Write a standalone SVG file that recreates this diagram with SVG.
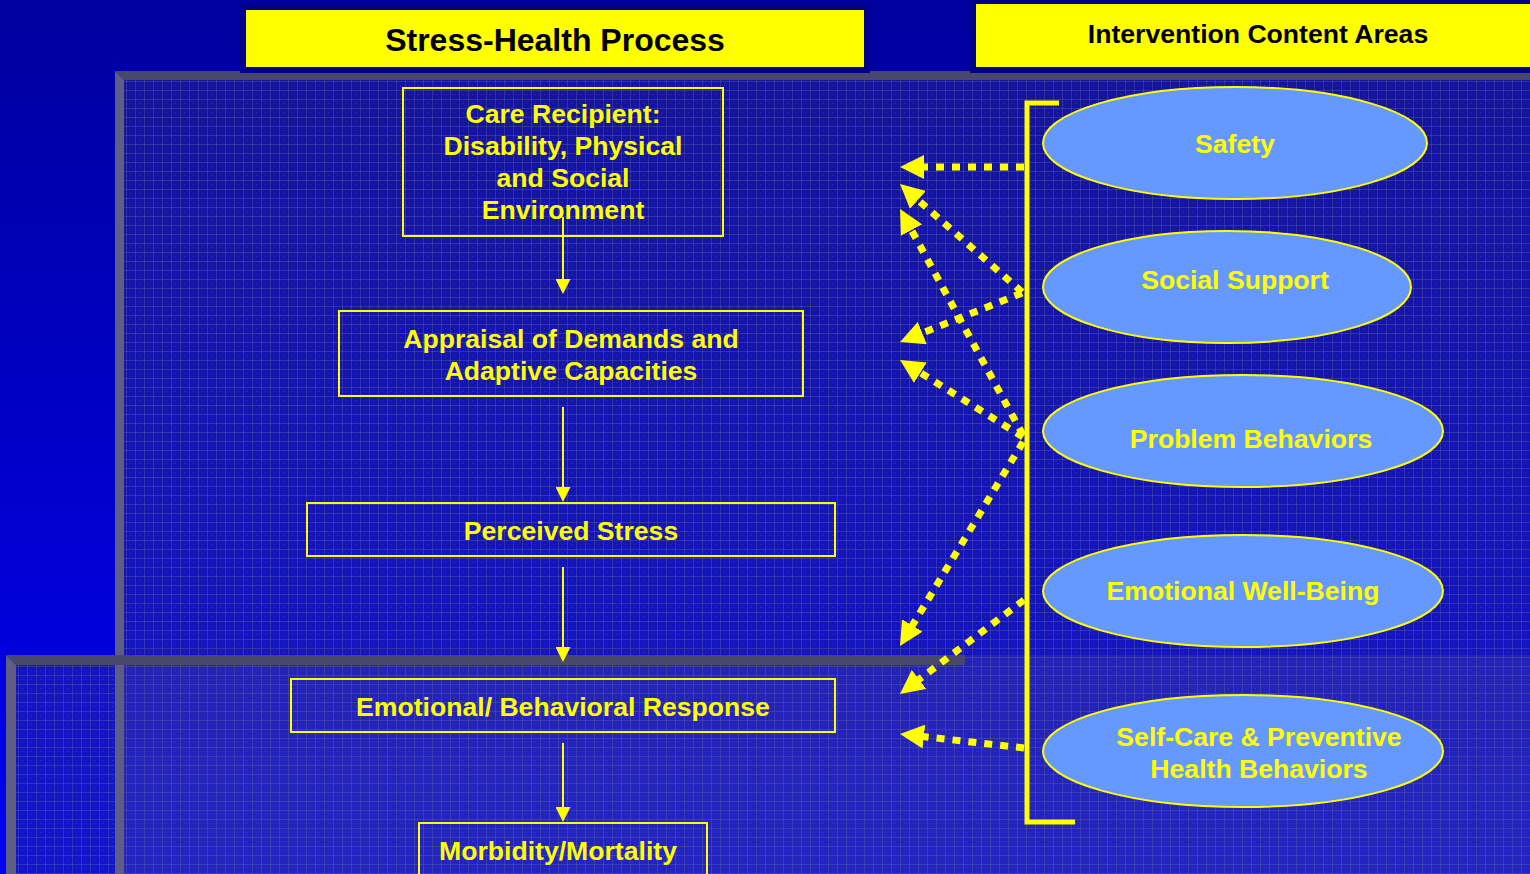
<svg xmlns="http://www.w3.org/2000/svg" width="1530" height="874" viewBox="0 0 1530 874">
<defs>
<linearGradient id="bg" x1="0" y1="0" x2="0" y2="1">
<stop offset="0" stop-color="#00009E"/>
<stop offset="1" stop-color="#0000F2"/>
</linearGradient>
<pattern id="tex" width="9" height="9" patternUnits="userSpaceOnUse">
<rect width="9" height="9" fill="#3a3a8c" fill-opacity="0.35"/>
<rect width="9" height="1" fill="#6a6a9a" fill-opacity="0.35"/>
<rect width="1" height="9" fill="#6a6a9a" fill-opacity="0.35"/>
<rect x="4" y="4" width="1" height="1" fill="#8080b0" fill-opacity="0.3"/>
</pattern>
<marker id="dhead" viewBox="0 0 24 24" refX="4" refY="12" markerWidth="24" markerHeight="24" markerUnits="userSpaceOnUse" orient="auto">
<path d="M0,0 L24,12 L0,24 Z" fill="#FFFF00"/>
</marker>
<marker id="shead" viewBox="0 0 15 15" refX="1" refY="7.5" markerWidth="15" markerHeight="15" markerUnits="userSpaceOnUse" orient="auto">
<path d="M0,0 L15,7.5 L0,15 Z" fill="#FFFF00"/>
</marker>
<style>
.box{fill:none;stroke:#FFFF00;stroke-width:2}
.t{font-family:"Liberation Sans",Arial,sans-serif;font-weight:bold;font-size:26.6px;fill:#FFFF00;text-anchor:middle}
.h{font-family:"Liberation Sans",Arial,sans-serif;font-weight:bold;fill:#000000;text-anchor:middle}
.ell{fill:#6699FF;stroke:#FFFF00;stroke-width:2}
.dot{fill:none;stroke:#FFFF00;stroke-width:7;stroke-dasharray:8 8;marker-end:url(#dhead)}
.sol{fill:none;stroke:#FFFF00;stroke-width:2;marker-end:url(#shead)}
.bt{fill:#48486C}
.bl{fill:#5E5E84}
</style>
</defs>

<g id="background">
<rect width="1530" height="874" fill="url(#bg)"/>
</g>

<g id="panels">
<rect x="124" y="80" width="1406" height="794" fill="url(#tex)"/>
<polygon class="bt" points="115,71 1530,71 1530,80 124,80"/>
<polygon class="bl" points="115,71 124,80 124,874 115,874"/>
<rect x="16" y="665" width="99" height="209" fill="url(#tex)"/>
<rect x="124" y="665" width="1406" height="209" fill="#6a6a90" fill-opacity="0.18"/>
<rect x="965" y="655" width="565" height="10" fill="#6a6a90" fill-opacity="0.18"/>
<polygon class="bt" points="6,655 965,655 965,665 16,665"/>
<polygon class="bl" points="6,655 16,665 16,874 6,874"/>
</g>

<g id="header-stress">
<rect x="240" y="4" width="630" height="69" fill="#000088"/>
<rect x="246" y="10" width="618" height="57" fill="#FFFF00"/>
<text class="h" x="555" y="51" font-size="32">Stress-Health Process</text>
</g>
<g id="header-intervention">
<rect x="970" y="0" width="560" height="73" fill="#000088"/>
<rect x="976" y="4" width="554" height="63" fill="#FFFF00"/>
<text class="h" x="1258" y="43" font-size="26.6">Intervention Content Areas</text>
</g>

<g id="node-care">
<rect class="box" x="403" y="88" width="320" height="148"/>
<text class="t" x="563" y="123">Care Recipient:</text>
<text class="t" x="563" y="155">Disability, Physical</text>
<text class="t" x="563" y="187">and Social</text>
<text class="t" x="563" y="219">Environment</text>
</g>
<g id="node-appraisal">
<rect class="box" x="339" y="311" width="464" height="85"/>
<text class="t" x="571" y="348">Appraisal of Demands and</text>
<text class="t" x="571" y="380">Adaptive Capacities</text>
</g>
<g id="node-stress">
<rect class="box" x="307" y="503" width="528" height="53"/>
<text class="t" x="571" y="540">Perceived Stress</text>
</g>
<g id="node-response">
<rect class="box" x="291" y="679" width="544" height="53"/>
<text class="t" x="563" y="716">Emotional/ Behavioral Response</text>
</g>
<g id="node-morbidity">
<rect class="box" x="419" y="823" width="288" height="60"/>
<text class="t" x="558" y="860">Morbidity/Mortality</text>
</g>

<g id="bracket">
<path d="M1059,103 L1027,103 L1027,822 L1075,822" fill="none" stroke="#FFFF00" stroke-width="5"/>
</g>

<g id="node-safety">
<ellipse class="ell" cx="1235" cy="143" rx="192" ry="56"/>
<text class="t" x="1235" y="153">Safety</text>
</g>
<g id="node-social">
<ellipse class="ell" cx="1227" cy="287" rx="184" ry="56"/>
<text class="t" x="1235" y="289">Social Support</text>
</g>
<g id="node-problem">
<ellipse class="ell" cx="1243" cy="431" rx="200" ry="56"/>
<text class="t" x="1251" y="448">Problem Behaviors</text>
</g>
<g id="node-emotional">
<ellipse class="ell" cx="1243" cy="591" rx="200" ry="56"/>
<text class="t" x="1243" y="600">Emotional Well-Being</text>
</g>
<g id="node-selfcare">
<ellipse class="ell" cx="1243" cy="751" rx="200" ry="56"/>
<text class="t" x="1259" y="746">Self-Care &amp; Preventive</text>
<text class="t" x="1259" y="778">Health Behaviors</text>
</g>

<g id="connectors">
<line class="sol" x1="563" y1="217" x2="563" y2="280"/>
<line class="sol" x1="563" y1="407" x2="563" y2="488"/>
<line class="sol" x1="563" y1="567" x2="563" y2="648"/>
<line class="sol" x1="563" y1="743" x2="563" y2="808"/>

<line class="dot" x1="1024" y1="167" x2="920" y2="167"/>
<line class="dot" x1="1022" y1="292" x2="915" y2="197.3"/>
<line class="dot" x1="1022" y1="293" x2="918.6" y2="334.5"/>
<line class="dot" x1="1023" y1="435" x2="909.6" y2="226.6"/>
<line class="dot" x1="1023" y1="437" x2="917" y2="370.6"/>
<line class="dot" x1="1023" y1="442" x2="910.3" y2="628.9"/>
<line class="dot" x1="1024" y1="600" x2="915.9" y2="681.9"/>
<line class="dot" x1="1024" y1="748" x2="919.9" y2="736.2"/>
</g>
</svg>
